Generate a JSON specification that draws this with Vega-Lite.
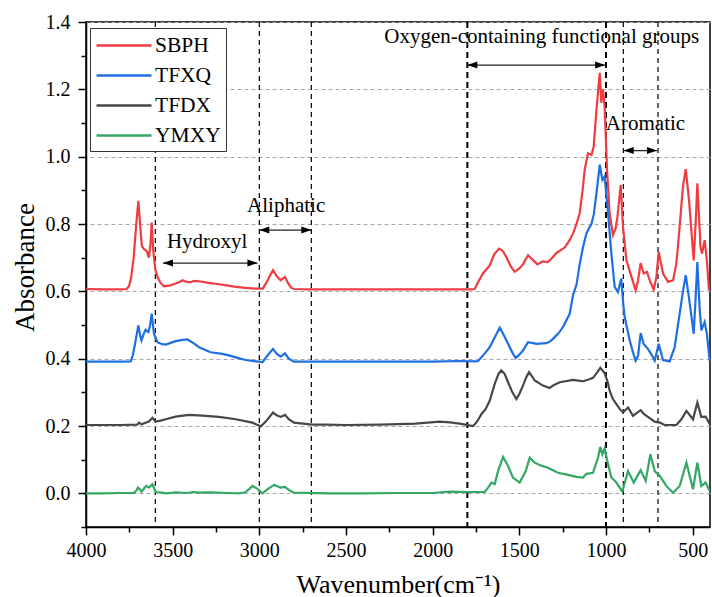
{
  "$schema": "https://vega.github.io/schema/vega-lite/v6.json",
  "width": 624,
  "height": 505,
  "autosize": {"type": "none"},
  "padding": {"left": 86, "top": 22, "right": 2, "bottom": 70},
  "background": "white",
  "config": {
    "font": "Liberation Serif",
    "view": {"stroke": "black", "strokeWidth": 1.5},
    "axis": {"labelFont": "Liberation Serif", "titleFont": "Liberation Serif", "labelColor": "black", "titleColor": "black", "tickColor": "black", "domainColor": "black"}
  },
  "datasets": {
    "spectra": [
      {"s":"SBPH","wn":4000,"a":0.607},{"s":"SBPH","wn":3900,"a":0.606},{"s":"SBPH","wn":3800,"a":0.606},{"s":"SBPH","wn":3765,"a":0.607},{"s":"SBPH","wn":3752,"a":0.615},{"s":"SBPH","wn":3740,"a":0.64},{"s":"SBPH","wn":3725,"a":0.70},{"s":"SBPH","wn":3710,"a":0.80},{"s":"SBPH","wn":3698,"a":0.869},{"s":"SBPH","wn":3688,"a":0.80},{"s":"SBPH","wn":3678,"a":0.735},{"s":"SBPH","wn":3665,"a":0.725},{"s":"SBPH","wn":3650,"a":0.72},{"s":"SBPH","wn":3637,"a":0.70},{"s":"SBPH","wn":3628,"a":0.74},{"s":"SBPH","wn":3621,"a":0.804},{"s":"SBPH","wn":3612,"a":0.72},{"s":"SBPH","wn":3600,"a":0.665},{"s":"SBPH","wn":3588,"a":0.643},{"s":"SBPH","wn":3570,"a":0.625},{"s":"SBPH","wn":3550,"a":0.615},{"s":"SBPH","wn":3520,"a":0.617},{"s":"SBPH","wn":3490,"a":0.622},{"s":"SBPH","wn":3460,"a":0.628},{"s":"SBPH","wn":3444,"a":0.633},{"s":"SBPH","wn":3420,"a":0.628},{"s":"SBPH","wn":3400,"a":0.627},{"s":"SBPH","wn":3375,"a":0.631},{"s":"SBPH","wn":3348,"a":0.630},{"s":"SBPH","wn":3300,"a":0.626},{"s":"SBPH","wn":3233,"a":0.621},{"s":"SBPH","wn":3180,"a":0.617},{"s":"SBPH","wn":3136,"a":0.613},{"s":"SBPH","wn":3080,"a":0.610},{"s":"SBPH","wn":3011,"a":0.608},{"s":"SBPH","wn":2980,"a":0.608},{"s":"SBPH","wn":2960,"a":0.625},{"s":"SBPH","wn":2935,"a":0.650},{"s":"SBPH","wn":2921,"a":0.663},{"s":"SBPH","wn":2900,"a":0.645},{"s":"SBPH","wn":2877,"a":0.633},{"s":"SBPH","wn":2852,"a":0.643},{"s":"SBPH","wn":2835,"a":0.625},{"s":"SBPH","wn":2815,"a":0.610},{"s":"SBPH","wn":2800,"a":0.607},{"s":"SBPH","wn":2700,"a":0.606},{"s":"SBPH","wn":2500,"a":0.606},{"s":"SBPH","wn":2300,"a":0.606},{"s":"SBPH","wn":2100,"a":0.606},{"s":"SBPH","wn":1900,"a":0.606},{"s":"SBPH","wn":1780,"a":0.606},{"s":"SBPH","wn":1758,"a":0.607},{"s":"SBPH","wn":1735,"a":0.630},{"s":"SBPH","wn":1710,"a":0.653},{"s":"SBPH","wn":1690,"a":0.665},{"s":"SBPH","wn":1671,"a":0.677},{"s":"SBPH","wn":1645,"a":0.71},{"s":"SBPH","wn":1617,"a":0.727},{"s":"SBPH","wn":1595,"a":0.72},{"s":"SBPH","wn":1575,"a":0.702},{"s":"SBPH","wn":1550,"a":0.675},{"s":"SBPH","wn":1527,"a":0.658},{"s":"SBPH","wn":1500,"a":0.668},{"s":"SBPH","wn":1479,"a":0.680},{"s":"SBPH","wn":1450,"a":0.707},{"s":"SBPH","wn":1425,"a":0.695},{"s":"SBPH","wn":1396,"a":0.680},{"s":"SBPH","wn":1364,"a":0.689},{"s":"SBPH","wn":1335,"a":0.687},{"s":"SBPH","wn":1310,"a":0.700},{"s":"SBPH","wn":1286,"a":0.714},{"s":"SBPH","wn":1238,"a":0.730},{"s":"SBPH","wn":1210,"a":0.752},{"s":"SBPH","wn":1190,"a":0.772},{"s":"SBPH","wn":1170,"a":0.800},{"s":"SBPH","wn":1152,"a":0.832},{"s":"SBPH","wn":1135,"a":0.90},{"s":"SBPH","wn":1123,"a":0.961},{"s":"SBPH","wn":1104,"a":1.010},{"s":"SBPH","wn":1084,"a":1.005},{"s":"SBPH","wn":1071,"a":1.030},{"s":"SBPH","wn":1055,"a":1.14},{"s":"SBPH","wn":1036,"a":1.249},{"s":"SBPH","wn":1027,"a":1.16},{"s":"SBPH","wn":1017,"a":1.199},{"s":"SBPH","wn":1008,"a":1.149},{"s":"SBPH","wn":994,"a":0.961},{"s":"SBPH","wn":979,"a":0.832},{"s":"SBPH","wn":960,"a":0.767},{"s":"SBPH","wn":945,"a":0.785},{"s":"SBPH","wn":934,"a":0.821},{"s":"SBPH","wn":915,"a":0.916},{"s":"SBPH","wn":902,"a":0.792},{"s":"SBPH","wn":882,"a":0.692},{"s":"SBPH","wn":853,"a":0.643},{"s":"SBPH","wn":829,"a":0.603},{"s":"SBPH","wn":815,"a":0.633},{"s":"SBPH","wn":800,"a":0.684},{"s":"SBPH","wn":783,"a":0.653},{"s":"SBPH","wn":764,"a":0.658},{"s":"SBPH","wn":748,"a":0.633},{"s":"SBPH","wn":725,"a":0.605},{"s":"SBPH","wn":710,"a":0.64},{"s":"SBPH","wn":696,"a":0.717},{"s":"SBPH","wn":671,"a":0.653},{"s":"SBPH","wn":642,"a":0.628},{"s":"SBPH","wn":613,"a":0.633},{"s":"SBPH","wn":595,"a":0.68},{"s":"SBPH","wn":585,"a":0.732},{"s":"SBPH","wn":556,"a":0.911},{"s":"SBPH","wn":540,"a":0.963},{"s":"SBPH","wn":521,"a":0.871},{"s":"SBPH","wn":494,"a":0.692},{"s":"SBPH","wn":483,"a":0.80},{"s":"SBPH","wn":473,"a":0.921},{"s":"SBPH","wn":455,"a":0.732},{"s":"SBPH","wn":446,"a":0.712},{"s":"SBPH","wn":431,"a":0.752},{"s":"SBPH","wn":418,"a":0.692},{"s":"SBPH","wn":406,"a":0.603},
      {"s":"TFXQ","wn":4000,"a":0.391},{"s":"TFXQ","wn":3800,"a":0.391},{"s":"TFXQ","wn":3742,"a":0.392},{"s":"TFXQ","wn":3730,"a":0.41},{"s":"TFXQ","wn":3717,"a":0.444},{"s":"TFXQ","wn":3698,"a":0.499},{"s":"TFXQ","wn":3688,"a":0.47},{"s":"TFXQ","wn":3680,"a":0.454},{"s":"TFXQ","wn":3666,"a":0.475},{"s":"TFXQ","wn":3656,"a":0.486},{"s":"TFXQ","wn":3640,"a":0.479},{"s":"TFXQ","wn":3630,"a":0.50},{"s":"TFXQ","wn":3621,"a":0.534},{"s":"TFXQ","wn":3608,"a":0.474},{"s":"TFXQ","wn":3588,"a":0.449},{"s":"TFXQ","wn":3560,"a":0.443},{"s":"TFXQ","wn":3540,"a":0.442},{"s":"TFXQ","wn":3483,"a":0.452},{"s":"TFXQ","wn":3440,"a":0.456},{"s":"TFXQ","wn":3415,"a":0.457},{"s":"TFXQ","wn":3380,"a":0.446},{"s":"TFXQ","wn":3348,"a":0.434},{"s":"TFXQ","wn":3281,"a":0.419},{"s":"TFXQ","wn":3213,"a":0.414},{"s":"TFXQ","wn":3170,"a":0.409},{"s":"TFXQ","wn":3136,"a":0.404},{"s":"TFXQ","wn":3079,"a":0.396},{"s":"TFXQ","wn":3002,"a":0.391},{"s":"TFXQ","wn":2982,"a":0.389},{"s":"TFXQ","wn":2960,"a":0.405},{"s":"TFXQ","wn":2921,"a":0.429},{"s":"TFXQ","wn":2900,"a":0.415},{"s":"TFXQ","wn":2877,"a":0.406},{"s":"TFXQ","wn":2852,"a":0.416},{"s":"TFXQ","wn":2830,"a":0.40},{"s":"TFXQ","wn":2800,"a":0.391},{"s":"TFXQ","wn":2600,"a":0.391},{"s":"TFXQ","wn":2400,"a":0.391},{"s":"TFXQ","wn":2200,"a":0.391},{"s":"TFXQ","wn":2000,"a":0.391},{"s":"TFXQ","wn":1850,"a":0.393},{"s":"TFXQ","wn":1760,"a":0.392},{"s":"TFXQ","wn":1738,"a":0.393},{"s":"TFXQ","wn":1700,"a":0.415},{"s":"TFXQ","wn":1671,"a":0.434},{"s":"TFXQ","wn":1640,"a":0.465},{"s":"TFXQ","wn":1613,"a":0.492},{"s":"TFXQ","wn":1590,"a":0.47},{"s":"TFXQ","wn":1565,"a":0.444},{"s":"TFXQ","wn":1540,"a":0.418},{"s":"TFXQ","wn":1521,"a":0.402},{"s":"TFXQ","wn":1500,"a":0.412},{"s":"TFXQ","wn":1479,"a":0.424},{"s":"TFXQ","wn":1450,"a":0.449},{"s":"TFXQ","wn":1420,"a":0.446},{"s":"TFXQ","wn":1402,"a":0.444},{"s":"TFXQ","wn":1344,"a":0.446},{"s":"TFXQ","wn":1320,"a":0.452},{"s":"TFXQ","wn":1296,"a":0.464},{"s":"TFXQ","wn":1270,"a":0.478},{"s":"TFXQ","wn":1248,"a":0.494},{"s":"TFXQ","wn":1209,"a":0.534},{"s":"TFXQ","wn":1190,"a":0.59},{"s":"TFXQ","wn":1170,"a":0.62},{"s":"TFXQ","wn":1152,"a":0.68},{"s":"TFXQ","wn":1133,"a":0.73},{"s":"TFXQ","wn":1113,"a":0.772},{"s":"TFXQ","wn":1095,"a":0.79},{"s":"TFXQ","wn":1084,"a":0.80},{"s":"TFXQ","wn":1070,"a":0.83},{"s":"TFXQ","wn":1055,"a":0.891},{"s":"TFXQ","wn":1036,"a":0.976},{"s":"TFXQ","wn":1021,"a":0.931},{"s":"TFXQ","wn":1008,"a":0.941},{"s":"TFXQ","wn":988,"a":0.832},{"s":"TFXQ","wn":969,"a":0.712},{"s":"TFXQ","wn":950,"a":0.613},{"s":"TFXQ","wn":931,"a":0.598},{"s":"TFXQ","wn":912,"a":0.638},{"s":"TFXQ","wn":900,"a":0.56},{"s":"TFXQ","wn":892,"a":0.523},{"s":"TFXQ","wn":863,"a":0.454},{"s":"TFXQ","wn":845,"a":0.42},{"s":"TFXQ","wn":829,"a":0.394},{"s":"TFXQ","wn":815,"a":0.409},{"s":"TFXQ","wn":800,"a":0.476},{"s":"TFXQ","wn":783,"a":0.444},{"s":"TFXQ","wn":758,"a":0.429},{"s":"TFXQ","wn":735,"a":0.41},{"s":"TFXQ","wn":719,"a":0.394},{"s":"TFXQ","wn":696,"a":0.444},{"s":"TFXQ","wn":671,"a":0.396},{"s":"TFXQ","wn":633,"a":0.392},{"s":"TFXQ","wn":604,"a":0.434},{"s":"TFXQ","wn":575,"a":0.534},{"s":"TFXQ","wn":556,"a":0.60},{"s":"TFXQ","wn":540,"a":0.648},{"s":"TFXQ","wn":521,"a":0.58},{"s":"TFXQ","wn":494,"a":0.474},{"s":"TFXQ","wn":483,"a":0.58},{"s":"TFXQ","wn":473,"a":0.687},{"s":"TFXQ","wn":460,"a":0.55},{"s":"TFXQ","wn":450,"a":0.484},{"s":"TFXQ","wn":431,"a":0.509},{"s":"TFXQ","wn":418,"a":0.474},{"s":"TFXQ","wn":402,"a":0.394},
      {"s":"TFDX","wn":4000,"a":0.203},{"s":"TFDX","wn":3800,"a":0.203},{"s":"TFDX","wn":3704,"a":0.204},{"s":"TFDX","wn":3694,"a":0.210},{"s":"TFDX","wn":3679,"a":0.205},{"s":"TFDX","wn":3660,"a":0.209},{"s":"TFDX","wn":3637,"a":0.213},{"s":"TFDX","wn":3617,"a":0.224},{"s":"TFDX","wn":3598,"a":0.213},{"s":"TFDX","wn":3570,"a":0.216},{"s":"TFDX","wn":3540,"a":0.220},{"s":"TFDX","wn":3483,"a":0.228},{"s":"TFDX","wn":3406,"a":0.233},{"s":"TFDX","wn":3329,"a":0.231},{"s":"TFDX","wn":3233,"a":0.227},{"s":"TFDX","wn":3136,"a":0.220},{"s":"TFDX","wn":3040,"a":0.210},{"s":"TFDX","wn":2992,"a":0.199},{"s":"TFDX","wn":2963,"a":0.213},{"s":"TFDX","wn":2921,"a":0.240},{"s":"TFDX","wn":2900,"a":0.232},{"s":"TFDX","wn":2877,"a":0.227},{"s":"TFDX","wn":2852,"a":0.233},{"s":"TFDX","wn":2830,"a":0.22},{"s":"TFDX","wn":2800,"a":0.210},{"s":"TFDX","wn":2694,"a":0.204},{"s":"TFDX","wn":2617,"a":0.204},{"s":"TFDX","wn":2500,"a":0.203},{"s":"TFDX","wn":2300,"a":0.204},{"s":"TFDX","wn":2100,"a":0.207},{"s":"TFDX","wn":1960,"a":0.213},{"s":"TFDX","wn":1900,"a":0.211},{"s":"TFDX","wn":1844,"a":0.207},{"s":"TFDX","wn":1767,"a":0.200},{"s":"TFDX","wn":1745,"a":0.212},{"s":"TFDX","wn":1719,"a":0.235},{"s":"TFDX","wn":1695,"a":0.25},{"s":"TFDX","wn":1671,"a":0.275},{"s":"TFDX","wn":1642,"a":0.325},{"s":"TFDX","wn":1620,"a":0.355},{"s":"TFDX","wn":1604,"a":0.365},{"s":"TFDX","wn":1585,"a":0.355},{"s":"TFDX","wn":1565,"a":0.330},{"s":"TFDX","wn":1540,"a":0.30},{"s":"TFDX","wn":1517,"a":0.280},{"s":"TFDX","wn":1500,"a":0.295},{"s":"TFDX","wn":1479,"a":0.320},{"s":"TFDX","wn":1460,"a":0.345},{"s":"TFDX","wn":1444,"a":0.360},{"s":"TFDX","wn":1430,"a":0.35},{"s":"TFDX","wn":1411,"a":0.335},{"s":"TFDX","wn":1364,"a":0.320},{"s":"TFDX","wn":1325,"a":0.313},{"s":"TFDX","wn":1300,"a":0.322},{"s":"TFDX","wn":1267,"a":0.330},{"s":"TFDX","wn":1190,"a":0.337},{"s":"TFDX","wn":1160,"a":0.335},{"s":"TFDX","wn":1132,"a":0.333},{"s":"TFDX","wn":1100,"a":0.338},{"s":"TFDX","wn":1075,"a":0.343},{"s":"TFDX","wn":1050,"a":0.36},{"s":"TFDX","wn":1033,"a":0.373},{"s":"TFDX","wn":1008,"a":0.357},{"s":"TFDX","wn":990,"a":0.33},{"s":"TFDX","wn":979,"a":0.305},{"s":"TFDX","wn":960,"a":0.28},{"s":"TFDX","wn":940,"a":0.265},{"s":"TFDX","wn":920,"a":0.25},{"s":"TFDX","wn":902,"a":0.240},{"s":"TFDX","wn":873,"a":0.255},{"s":"TFDX","wn":844,"a":0.230},{"s":"TFDX","wn":820,"a":0.24},{"s":"TFDX","wn":800,"a":0.247},{"s":"TFDX","wn":780,"a":0.235},{"s":"TFDX","wn":758,"a":0.227},{"s":"TFDX","wn":719,"a":0.213},{"s":"TFDX","wn":690,"a":0.210},{"s":"TFDX","wn":662,"a":0.203},{"s":"TFDX","wn":594,"a":0.203},{"s":"TFDX","wn":565,"a":0.22},{"s":"TFDX","wn":536,"a":0.245},{"s":"TFDX","wn":498,"a":0.220},{"s":"TFDX","wn":473,"a":0.270},{"s":"TFDX","wn":450,"a":0.227},{"s":"TFDX","wn":425,"a":0.228},{"s":"TFDX","wn":402,"a":0.206},
      {"s":"YMXY","wn":4000,"a":0.0},{"s":"YMXY","wn":3900,"a":0.0},{"s":"YMXY","wn":3800,"a":0.001},{"s":"YMXY","wn":3723,"a":0.001},{"s":"YMXY","wn":3710,"a":0.008},{"s":"YMXY","wn":3700,"a":0.017},{"s":"YMXY","wn":3690,"a":0.012},{"s":"YMXY","wn":3679,"a":0.005},{"s":"YMXY","wn":3665,"a":0.015},{"s":"YMXY","wn":3652,"a":0.022},{"s":"YMXY","wn":3637,"a":0.017},{"s":"YMXY","wn":3617,"a":0.027},{"s":"YMXY","wn":3598,"a":0.004},{"s":"YMXY","wn":3560,"a":0.002},{"s":"YMXY","wn":3540,"a":0.0},{"s":"YMXY","wn":3480,"a":0.003},{"s":"YMXY","wn":3420,"a":0.001},{"s":"YMXY","wn":3380,"a":0.004},{"s":"YMXY","wn":3340,"a":0.002},{"s":"YMXY","wn":3300,"a":0.003},{"s":"YMXY","wn":3250,"a":0.002},{"s":"YMXY","wn":3180,"a":0.001},{"s":"YMXY","wn":3120,"a":0.0},{"s":"YMXY","wn":3080,"a":0.003},{"s":"YMXY","wn":3060,"a":0.012},{"s":"YMXY","wn":3040,"a":0.022},{"s":"YMXY","wn":3015,"a":0.015},{"s":"YMXY","wn":2982,"a":0.0},{"s":"YMXY","wn":2954,"a":0.012},{"s":"YMXY","wn":2915,"a":0.025},{"s":"YMXY","wn":2877,"a":0.017},{"s":"YMXY","wn":2852,"a":0.019},{"s":"YMXY","wn":2830,"a":0.01},{"s":"YMXY","wn":2800,"a":0.002},{"s":"YMXY","wn":2600,"a":0.0},{"s":"YMXY","wn":2400,"a":0.0},{"s":"YMXY","wn":2200,"a":0.001},{"s":"YMXY","wn":2000,"a":0.001},{"s":"YMXY","wn":1900,"a":0.005},{"s":"YMXY","wn":1800,"a":0.004},{"s":"YMXY","wn":1700,"a":0.004},{"s":"YMXY","wn":1680,"a":0.017},{"s":"YMXY","wn":1661,"a":0.032},{"s":"YMXY","wn":1642,"a":0.027},{"s":"YMXY","wn":1623,"a":0.066},{"s":"YMXY","wn":1594,"a":0.108},{"s":"YMXY","wn":1565,"a":0.081},{"s":"YMXY","wn":1537,"a":0.047},{"s":"YMXY","wn":1498,"a":0.032},{"s":"YMXY","wn":1463,"a":0.066},{"s":"YMXY","wn":1440,"a":0.106},{"s":"YMXY","wn":1411,"a":0.091},{"s":"YMXY","wn":1383,"a":0.084},{"s":"YMXY","wn":1335,"a":0.076},{"s":"YMXY","wn":1277,"a":0.061},{"s":"YMXY","wn":1219,"a":0.055},{"s":"YMXY","wn":1171,"a":0.049},{"s":"YMXY","wn":1132,"a":0.047},{"s":"YMXY","wn":1113,"a":0.058},{"s":"YMXY","wn":1075,"a":0.061},{"s":"YMXY","wn":1046,"a":0.106},{"s":"YMXY","wn":1033,"a":0.138},{"s":"YMXY","wn":1021,"a":0.116},{"s":"YMXY","wn":1008,"a":0.133},{"s":"YMXY","wn":988,"a":0.086},{"s":"YMXY","wn":969,"a":0.047},{"s":"YMXY","wn":940,"a":0.032},{"s":"YMXY","wn":906,"a":0.005},{"s":"YMXY","wn":873,"a":0.066},{"s":"YMXY","wn":840,"a":0.032},{"s":"YMXY","wn":800,"a":0.069},{"s":"YMXY","wn":771,"a":0.037},{"s":"YMXY","wn":744,"a":0.116},{"s":"YMXY","wn":719,"a":0.066},{"s":"YMXY","wn":690,"a":0.052},{"s":"YMXY","wn":652,"a":0.022},{"s":"YMXY","wn":613,"a":0.002},{"s":"YMXY","wn":575,"a":0.022},{"s":"YMXY","wn":536,"a":0.091},{"s":"YMXY","wn":498,"a":0.012},{"s":"YMXY","wn":473,"a":0.091},{"s":"YMXY","wn":450,"a":0.022},{"s":"YMXY","wn":425,"a":0.032},{"s":"YMXY","wn":402,"a":0.007}
    ],
    "thinLines": [{"wn": 3600}, {"wn": 3000}, {"wn": 2700}, {"wn": 900}, {"wn": 700}],
    "thickLines": [{"wn": 1800}, {"wn": 1000}],
    "arrows": [
      {"label": "Hydroxyl", "from": 3556, "to": 3011, "y": 0.684},
      {"label": "Aliphatic", "from": 3000, "to": 2700, "y": 0.782},
      {"label": "Oxygen-containing functional groups", "from": 1800, "to": 1005, "y": 1.272},
      {"label": "Aromatic", "from": 898, "to": 706, "y": 1.018}
    ],
    "labels": [
      {"text": "Hydroxyl", "wn": 3301, "y": 0.728},
      {"text": "Aliphatic", "wn": 2845, "y": 0.836},
      {"text": "Oxygen-containing functional groups", "wn": 1371, "y": 1.338},
      {"text": "Aromatic", "wn": 772, "y": 1.08}
    ]
  },
  "resolve": {"axis": {"x": "independent", "y": "independent"}},
  "layer": [
    {
      "data": {"name": "thinLines"},
      "mark": {"type": "rule", "color": "black", "strokeWidth": 1.2, "strokeDash": [5, 4]},
      "encoding": {
        "x": {"field": "wn", "type": "quantitative", "scale": {"domain": [400, 4000], "reverse": true, "nice": false, "zero": false}, "axis": null}
      }
    },
    {
      "data": {"name": "thickLines"},
      "mark": {"type": "rule", "color": "black", "strokeWidth": 2, "strokeDash": [6, 4]},
      "encoding": {
        "x": {"field": "wn", "type": "quantitative", "axis": null}
      }
    },
    {
      "data": {"name": "spectra"},
      "mark": {"type": "line", "strokeWidth": 2.2, "interpolate": "linear"},
      "encoding": {
        "x": {"field": "wn", "type": "quantitative",
          "axis": {"values": [4000, 3500, 3000, 2500, 2000, 1500, 1000, 500], "format": "d", "title": "Wavenumber(cm⁻¹)", "grid": false, "tickSize": 8, "tickWidth": 1.5, "domainWidth": 1.5, "labelFontSize": 20, "labelPadding": 5, "labelFlush": false, "titleFontSize": 26, "titleFontWeight": "normal", "titleBaseline": "alphabetic", "titleY": 65}},
        "y": {"field": "a", "type": "quantitative", "scale": {"domain": [-0.1, 1.4], "nice": false, "zero": false},
          "axis": {"values": [0, 0.2, 0.4, 0.6, 0.8, 1.0, 1.2, 1.4], "format": ".1f", "title": "Absorbance", "grid": true, "gridDash": [4, 3], "gridColor": "#a8a8a8", "gridWidth": 1, "tickSize": 8, "tickWidth": 1.5, "domainWidth": 1.5, "labelFontSize": 20, "labelPadding": 8, "labelFlush": false, "titleFontSize": 27, "titleFontWeight": "normal", "titleBaseline": "alphabetic", "titleX": -53, "titleY": 245, "titleAngle": -90}},
        "color": {"field": "s", "type": "nominal",
          "scale": {"domain": ["SBPH", "TFXQ", "TFDX", "YMXY"], "range": ["#f03c40", "#1e6fe2", "#474747", "#33a865"]},
          "legend": {"orient": "none", "legendX": 4, "legendY": 6, "title": null, "symbolType": "M-1,0L4,0", "symbolSize": 484, "symbolStrokeWidth": 2.5, "labelFontSize": 21.5, "labelFont": "Liberation Serif", "labelColor": "black", "labelOffset": 35, "strokeColor": "#333333", "fillColor": "white", "padding": 5, "rowPadding": 7}
        }
      }
    },
    {
      "data": {"name": "arrows"},
      "mark": {"type": "rule", "color": "#222222", "strokeWidth": 1.3},
      "encoding": {
        "x": {"field": "from", "type": "quantitative", "axis": null},
        "x2": {"field": "to"},
        "y": {"field": "y", "type": "quantitative", "axis": null}
      }
    },
    {
      "data": {"name": "arrows"},
      "mark": {"type": "point", "shape": "M0,0 L1,-0.35 L1,0.35 Z", "filled": true, "color": "black", "size": 400, "opacity": 1},
      "encoding": {
        "x": {"field": "from", "type": "quantitative", "axis": null},
        "y": {"field": "y", "type": "quantitative", "axis": null}
      }
    },
    {
      "data": {"name": "arrows"},
      "mark": {"type": "point", "shape": "M0,0 L-1,-0.35 L-1,0.35 Z", "filled": true, "color": "black", "size": 400, "opacity": 1},
      "encoding": {
        "x": {"field": "to", "type": "quantitative", "axis": null},
        "y": {"field": "y", "type": "quantitative", "axis": null}
      }
    },
    {
      "data": {"name": "labels"},
      "mark": {"type": "text", "font": "Liberation Serif", "fontSize": 21, "color": "black", "align": "center", "baseline": "alphabetic"},
      "encoding": {
        "x": {"field": "wn", "type": "quantitative",
          "axis": {"orient": "bottom", "values": [3750, 3250, 2750, 2250, 1750, 1250, 750], "labels": false, "domain": false, "grid": false, "title": null, "tickSize": 5, "tickWidth": 1.5}},
        "y": {"field": "y", "type": "quantitative",
          "axis": {"orient": "left", "values": [-0.1, 0.1, 0.3, 0.5, 0.7, 0.9, 1.1, 1.3], "labels": false, "domain": false, "grid": false, "title": null, "tickSize": 5, "tickWidth": 1.5}},
        "text": {"field": "text"}
      }
    }
  ]
}
